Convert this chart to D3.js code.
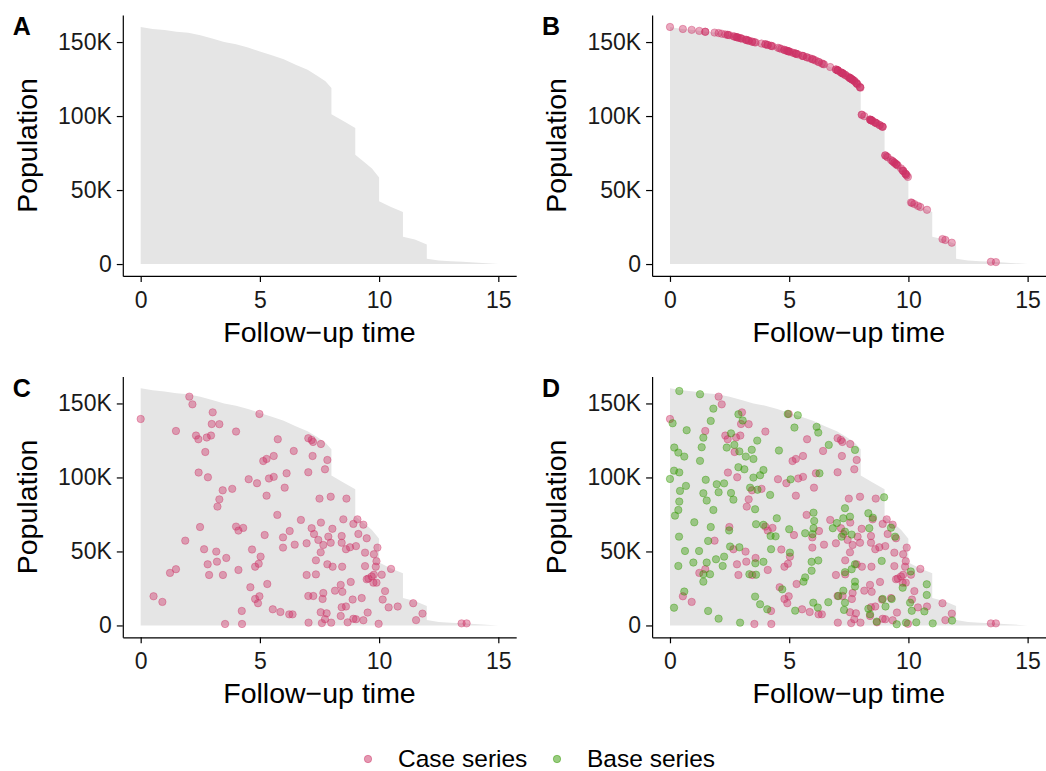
<!DOCTYPE html>
<html lang="en">
<head>
    <meta charset="UTF-8">
    <title>population at risk</title>
    <style>
        body { margin: 0; background: #fff; }
        text { font-family: "Liberation Sans", Arial, Helvetica, sans-serif; }
    </style>
</head>
<body>
<svg id="chart"></svg>

<script src="https://cdn.jsdelivr.net/npm/d3@7"></script>
<script>
    // population at risk over follow-up (thousands)
    var curveTime = [0, 0.5, 1, 1.5, 2, 2.5, 3, 3.5, 4, 4.5, 5, 5.5, 6, 6.5, 7, 7.4, 7.75, 8, 8, 8.5, 9, 9, 9.45, 9.7, 10, 10, 10.5, 11, 11, 11.5, 12, 12, 12.5, 13, 13.5, 14, 15];
    var curvePop  = [160.2, 158.9, 158.1, 156.9, 156.2, 154.6, 152.4, 150, 148.5, 146.3, 143.6, 141, 138.3, 134.6, 131.2, 127.3, 123.5, 119, 101.3, 96.6, 92, 73.8, 68, 64.5, 58.5, 42.5, 38.5, 35.2, 18.5, 16.6, 13.2, 3.6, 2.4, 1.9, 1.5, 1.0, 0];

    // case series: event time and sampled population (thousands)
    var caseTime = [0, 2.04, 2.17, 3.02, 2.98, 3.3, 1.48, 2.32, 2.42, 2.77, 2.95, 4.0, 4.98, 2.71, 5.75, 6.42, 5.14, 5.28, 5.58, 2.43,
        2.82, 4.53, 4.88, 5.38, 5.58, 6.12, 6.04, 3.44, 3.84, 5.28, 3.3, 3.22, 5.73, 2.49, 4.0, 4.1, 4.3, 5.2, 1.87, 5.97,
        6.25, 5.97, 6.46, 2.66, 3.17, 4.67, 5.03, 3.59, 3.2, 2.81, 4.95, 4.8, 4.1, 1.48, 1.23, 2.87, 3.45, 5.31, 4.6, 0.54,
        0.91, 4.8, 4.98, 4.92, 4.24, 5.54, 5.86, 6.23, 6.37, 3.54, 4.25,
        7.03, 7.17, 7.23, 7.56, 7.21, 7.83, 7.03, 7.73, 7.5, 7.97, 8.63, 6.72, 7.56, 8.5, 9.09, 8.92, 9.34, 7.17, 8.04, 7.27,
        7.87, 8.43, 9.13, 7.45, 9.48, 6.96, 7.66, 7.97, 8.43, 8.61, 8.78, 9.03, 9.93, 7.55, 9.41, 9.78, 7.35, 9.89, 7.83, 8.05,
        8.45, 9.41, 9.86, 10.5, 6.96, 7.35, 10.11, 9.69, 9.78, 9.48, 9.55, 9.89, 9.76, 8.81, 8.39, 8.15, 8.46, 10.25, 7.03, 7.24,
        7.66, 7.63, 8.89, 9.27, 10.15, 8.43, 8.61, 10.4, 10.78, 11.43, 7.55, 7.8, 8.39, 9.52, 11.82, 7.73, 8.92, 9.03, 9.34, 11.55,
        7.04, 7.6, 7.99, 8.68, 9.98, 13.46, 13.67];
    var casePop = [139.5, 154.6, 149.4, 144, 136.1, 136, 131.4, 128.3, 125.8, 127, 128.3, 131, 142.9, 117.2, 125.8, 117.9, 111.1, 112.5, 114.5, 103.3,
        100.1, 98.8, 96.1, 99.3, 100.4, 102.8, 93.1, 91.3, 92.3, 87.7, 85.2, 80.3, 74.7, 66.5, 66.8, 64.1, 65.9, 61.1, 57.3, 59.5,
        63.8, 52.6, 54.6, 51.5, 49.9, 51.3, 46.5, 45.6, 43.1, 41.3, 41.7, 39.7, 37.5, 38, 35.5, 34.1, 34.1, 28, 25.8, 19.7,
        15.9, 17.9, 19.7, 15, 9.8, 10.9, 9.1, 7.5, 7.5, 1, 1,
        126.5, 125.3, 124, 122.6, 114.5, 111.8, 103.5, 105.5, 85.7, 87, 85.7, 71.3, 69.5, 71.7, 71.7, 68.6, 68.1, 65.7, 65.3, 61.8,
        60, 60.4, 61.8, 57.8, 58.9, 55.5, 54.4, 55.9, 55.9, 51.5, 52.8, 53.6, 52.6, 49.4, 49.2, 48.1, 44, 43.4, 41.3, 39.7,
        39.7, 40.1, 39.7, 38.2, 34.1, 34.5, 34.3, 33.1, 34.3, 31.2, 31.7, 28.9, 28.9, 29.4, 27.4, 23.5, 22.7, 23.2, 19.9, 19.9,
        21.9, 17.9, 17.5, 18.5, 17.5, 12.3, 12.8, 12.2, 12.8, 15, 8.9, 8.2, 6.4, 8.7, 8, 4.2, 4.5, 4.2, 3.5, 3.6,
        1.9, 1.6, 1.9, 2.1, 1.1, 1.4, 1.4];

    // base series: sampled person-time (thousands)
    var baseTime = [0.39, 1.26, 1.82, 1.71, 0.11, 0.7, 2.87, 3.05, 4.94, 5.36, 5.22, 6.15, 6.22, 6.66, 2.56, 1.4, 1.33, 0.18, 0.35, 0.6,
        1.26, 2.38, 2.7, 2.91, 3.18, 3.43, 3.66, 3.5, 4.57, 0.17, 0.39, 0, 0.42, 0.67, 0.39, 0.35, 0.21, 1.5, 1.4, 1.54,
        1.82, 1.96, 2.27, 2.04, 2.56, 2.66, 2.87, 3.12, 3.5, 3.78, 3.92, 3.36, 3.67, 4.2, 3.57, 5.06, 6.27, 1.02, 1.71, 0.38,
        1.6, 2.48, 3.61, 3.92, 4.22, 4.43, 4.48, 5.0, 5.67, 5.98, 6.02, 6.05, 6.02, 6.83, 7.0, 0.63, 1.22, 0.35, 0.98, 1.54,
        1.4, 1.4, 1.68, 1.93, 2.21, 2.27, 2.52, 2.91, 3.33, 3.61, 3.58, 3.92, 4.24, 5.03, 5.94, 6.22, 5.94, 5.67, 5.6, 4.71,
        0.6, 0.17, 1.6, 2.04, 2.94, 3.57, 3.78, 4.08, 5.25, 6.01, 6.2, 6.64,
        7.76, 8.98, 7.34, 8.32, 8.51, 7.27, 7.55, 8.36, 9.27, 9.44, 7.34, 7.62, 7.2, 8.88, 7.76, 7.62, 7.34, 10.1, 7.76, 7.76,
        9.76, 10.77, 10.77, 7.27, 7.06, 7.34, 7.3, 8.92, 9.3, 9.04, 10.07, 10.14, 10.67, 8.32, 8.39, 8.67, 9.51, 9.9, 10.33, 11.02,
        11.83];
    var basePop = [158.4, 156.2, 146.5, 138.2, 136.6, 131.9, 142.7, 138.5, 142.9, 142, 133.7, 134.2, 130.3, 122, 129.8, 126.9, 120.4, 120.2, 116.8, 114.1,
        111.2, 120.2, 122, 117.6, 114.1, 118.7, 124.9, 112.5, 118.2, 104.6, 103.4, 99, 90.9, 94.3, 83.7, 78, 74.2, 98.4, 89.3, 84.4,
        78, 95.4, 96, 90, 89.5, 85, 106.9, 105.5, 99.9, 101.5, 105, 93.1, 91.7, 88.2, 78.5, 98.7, 102.8, 69.7, 66.5, 60,
        57.1, 64.2, 68.4, 68, 60.5, 60.2, 72.4, 65, 62.3, 61.7, 65.7, 70.6, 76.2, 65.7, 69.2, 50.3, 50.3, 40.2, 42.5, 42.5,
        34.6, 29.6, 34.6, 44.7, 40.2, 46.5, 53.3, 52.8, 34.6, 34.3, 42, 43, 51.5, 49.2, 43, 43.9, 37, 32.5, 29.6, 24.4,
        22.9, 12, 9.8, 4.6, 1.9, 19.5, 14.3, 10.9, 10, 15.4, 12.1, 15.7,
        118.6, 86.6, 79.2, 75.8, 72.8, 72.4, 73.5, 65.7, 66, 60, 63.4, 61.4, 60, 43.6, 41.3, 38, 36, 36.5, 29.6, 26.3,
        25.5, 27.8, 20.6, 23.5, 19.9, 15.4, 10.5, 17.9, 17.9, 12.8, 15.4, 9.9, 9.5, 11.3, 7.5, 2.6, 0.8, 1.9, 2.1, 1.4,
        3.3];

    var xTicks = [0, 5, 10, 15];
    var yTicks = [0, 50, 100, 150];
    var yTickLabels = ["0", "50K", "100K", "150K"];
    var panelLabels = ["A", "B", "C", "D"];
    var seriesNames = ["Case series", "Base series"];

    var width = 1046, height = 771;
    var caseColor = "#cc3366", baseColor = "#339900";

    var svg = d3.select("#chart").attr("width", width).attr("height", height);

    var curve = curveTime.map(function(t, i){ return {t: t, p: curvePop[i]}; });
    var cases = caseTime.map(function(t, i){ return {t: t, p: casePop[i]}; });
    var bases = baseTime.map(function(t, i){ return {t: t, p: basePop[i]}; });

    // population at risk at a given time
    var bisect = d3.bisector(function(d){ return d.t; }).right;
    function atRisk(t) {
        var i = bisect(curve, t);
        if (i >= curve.length) return curve[curve.length - 1].p;
        var a = curve[i - 1], b = curve[i];
        return a.p + (b.p - a.p) * (t - a.t) / (b.t - a.t);
    }
    var onCurve = cases.map(function(d){ return {t: d.t, p: atRisk(d.t)}; });

    // ggplot-like 5% expansion
    var xMax = d3.max(curveTime), yMax = d3.max(curvePop);
    var xDom = [-0.05 * xMax, xMax * 1.05];
    var yDom = [-0.05 * yMax, yMax * 1.05];

    var cols = [122.8, 652.1], colW = 393.4;
    var rows = [15.1, 376.5], rowH = 260.8;

    var panels = [
        {label: 0, col: 0, row: 0, sets: []},
        {label: 1, col: 1, row: 0, sets: [{data: onCurve, color: caseColor}]},
        {label: 2, col: 0, row: 1, sets: [{data: cases, color: caseColor}]},
        {label: 3, col: 1, row: 1, sets: [{data: cases, color: caseColor}, {data: bases, color: baseColor}]}
    ];

    panels.forEach(function(pn){
        var left = cols[pn.col], top = rows[pn.row];
        var x = d3.scaleLinear().domain(xDom).range([left, left + colW]);
        var y = d3.scaleLinear().domain(yDom).range([top + rowH, top]);
        var g = svg.append("g");

        var area = d3.area()
            .x(function(d){ return x(d.t); })
            .y0(y(0))
            .y1(function(d){ return y(d.p); });
        g.append("path")
            .datum(curve)
            .attr("d", area)
            .attr("fill", "#e5e5e5");

        pn.sets.forEach(function(s){
            g.append("g").selectAll("circle")
                .data(s.data)
                .enter()
                .append("circle")
                .attr("cx", function(d){ return x(d.t); })
                .attr("cy", function(d){ return y(d.p); })
                .attr("r", 3.7)
                .attr("fill", s.color)
                .attr("fill-opacity", 0.42)
                .attr("stroke", s.color)
                .attr("stroke-opacity", 0.42)
                .attr("stroke-width", 0.9);
        });

        var xAxis = g.append("g")
            .attr("transform", "translate(0," + (top + rowH) + ")")
            .call(d3.axisBottom(x).tickValues(xTicks).tickSizeInner(6).tickSizeOuter(0).tickPadding(4));
        var yAxis = g.append("g")
            .attr("transform", "translate(" + left + ",0)")
            .call(d3.axisLeft(y).tickValues(yTicks).tickFormat(function(d, i){ return yTickLabels[i]; })
                .tickSizeInner(6).tickSizeOuter(0).tickPadding(5));
        [xAxis, yAxis].forEach(function(ax){
            ax.select(".domain").attr("stroke", "#000").attr("stroke-width", 1.2);
            ax.selectAll(".tick line").attr("stroke", "#000").attr("stroke-width", 1.2);
            ax.selectAll(".tick text")
                .attr("fill", "#1a1a1a")
                .style("font-size", "23px")
                .style("font-family", "'Liberation Sans', Arial, sans-serif");
        });
        xAxis.selectAll(".tick text").attr("dy", "0.95em");

        g.append("text")
            .attr("x", left + colW / 2)
            .attr("y", top + rowH + 66)
            .attr("text-anchor", "middle")
            .style("font-size", "28.5px")
            .text("Follow\u2212up time");

        g.append("text")
            .attr("transform", "translate(" + (left - 86) + "," + (top + rowH / 2) + ") rotate(-90)")
            .attr("text-anchor", "middle")
            .style("font-size", "28.5px")
            .text("Population");

        g.append("text")
            .attr("x", left - 110)
            .attr("y", top + 20)
            .style("font-size", "25px")
            .style("font-weight", "bold")
            .text(panelLabels[pn.label]);
    });

    // legend
    var legend = svg.append("g");
    var legendX = [368, 557];
    [caseColor, baseColor].forEach(function(c, i){
        legend.append("circle")
            .attr("cx", legendX[i]).attr("cy", 759).attr("r", 3.7)
            .attr("fill", c).attr("fill-opacity", 0.5)
            .attr("stroke", c).attr("stroke-opacity", 0.5).attr("stroke-width", 0.9);
        legend.append("text")
            .attr("x", legendX[i] + 30).attr("y", 767)
            .style("font-size", "24.5px")
            .text(seriesNames[i]);
    });
</script>
</body>
</html>
